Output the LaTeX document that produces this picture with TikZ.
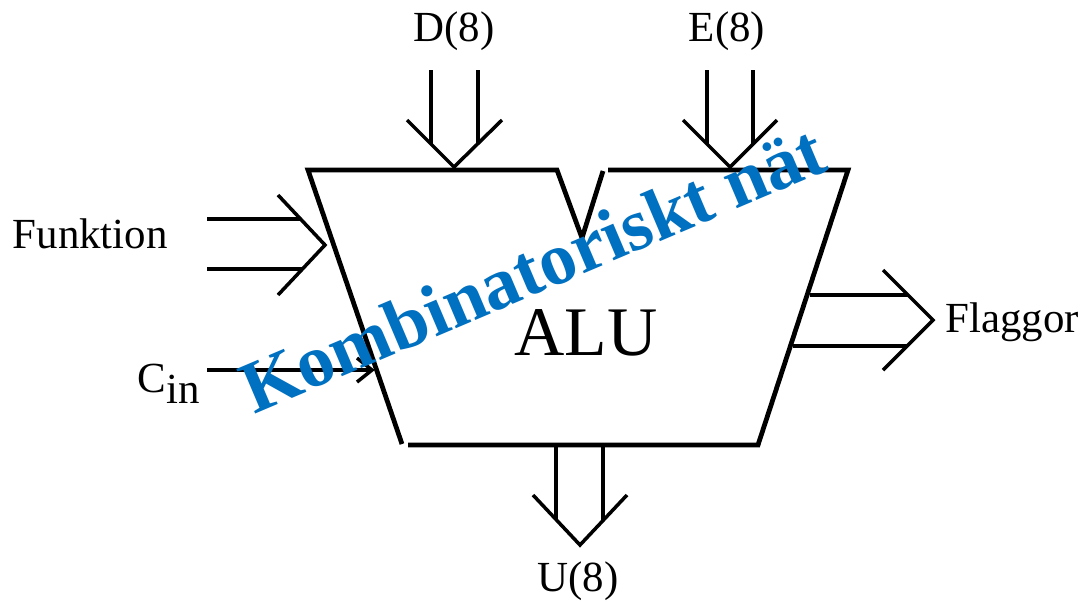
\documentclass[tikz,border=0pt]{standalone}
\usepackage{fontspec}
\setmainfont{Liberation Serif}
\definecolor{vmblue}{RGB}{0,112,192}
\begin{document}
\begin{tikzpicture}[x=0.01cm, y=-0.01cm, line join=miter, font=\fontsize{12.2}{14}\selectfont,
		kant/.style={line width=1.35pt},
		buss/.style={line width=1pt},
		etikett/.style={inner sep=0pt, anchor=base}]
	\useasboundingbox (0,0) rectangle (1081,605);
	
	% ALU-kroppen
	\coordinate (TL) at (308,170);
	\coordinate (N1) at (557,170);
	\coordinate (N2) at (582,238);
	\coordinate (N3) at (603,171);
	\coordinate (TR) at (608,170);
	\coordinate (HR) at (848,170);
	\coordinate (BR) at (758,445);
	\coordinate (BL) at (408,445);
	\coordinate (VL) at (402,444);
	\draw[kant] (N3)--(N2)--(N1)--(TL)--(VL);
	\draw[kant] (BL)--(BR)--(HR)--(TR);
	
	% D(8)
	\coordinate (D1) at (431,70);
	\coordinate (D2) at (478,70);
	\coordinate (D1') at (431,144);
	\coordinate (D2') at (478,144);
	\coordinate (DS) at (454,167);
	\draw[buss] (D1)--(D1') (D2)--(D2');
	\draw[buss] (407,120)--(DS)--(502,120);
	
	% E(8)
	\coordinate (E1) at (707,70);
	\coordinate (E2) at (753,70);
	\coordinate (E1') at (707,144);
	\coordinate (E2') at (753,144);
	\coordinate (ES) at (730,167);
	\draw[buss] (E1)--(E1') (E2)--(E2');
	\draw[buss] (683,120)--(ES)--(777,120);
	
	% Funktion
	\coordinate (F1) at (207,219);
	\coordinate (F2) at (207,269);
	\coordinate (F1') at (301,219);
	\coordinate (F2') at (302,269);
	\coordinate (FS) at (325,245);
	\draw[buss] (F1)--(F1') (F2)--(F2');
	\draw[buss] (278,195)--(FS)--(278,295);
	
	% Cin
	\coordinate (C1) at (207,370);
	\coordinate (CS) at (372,370);
	\draw[kant] (C1)--(CS);
	\draw[buss] (357,358)--(CS)--(357,382);
	
	% Flaggor
	\coordinate (G1) at (810,295);
	\coordinate (G2) at (793,346);
	\coordinate (G1') at (908,295);
	\coordinate (G2') at (907,346);
	\coordinate (GS) at (933,320);
	\draw[buss] (G1)--(G1') (G2)--(G2');
	\draw[buss] (883,270)--(GS)--(883,370);
	
	% U(8)
	\coordinate (U1) at (556,445);
	\coordinate (U2) at (603,445);
	\coordinate (U1') at (556,520);
	\coordinate (U2') at (603,520);
	\coordinate (US) at (580,545);
	\draw[buss] (U1)--(U1') (U2)--(U2');
	\draw[buss] (533,495)--(US)--(627,495);
	
	% texter
	\node[etikett] (d) at (454,41) {D(8)};
	\node[etikett] (e) at (727,41) {E(8)};
	\node[etikett, anchor=base west] (f) at (12,248) {Funktion};
	\node[etikett, anchor=base west] (c) at (137,392) {C\raisebox{-3.2pt}{in}};
	\node[etikett, anchor=base west] (g) at (945,332) {Flaggor};
	\node[etikett] (u) at (578,591) {U(8)};
	\node[etikett, font=\fontsize{19.8}{22}\selectfont] (alu) at (586,355) {ALU};
	
	\node[etikett, rotate=23, text=vmblue, font=\bfseries\fontsize{21}{24}\selectfont] (vm) at (542,292) {Kombinatoriskt nät};
\end{tikzpicture}
\end{document}
